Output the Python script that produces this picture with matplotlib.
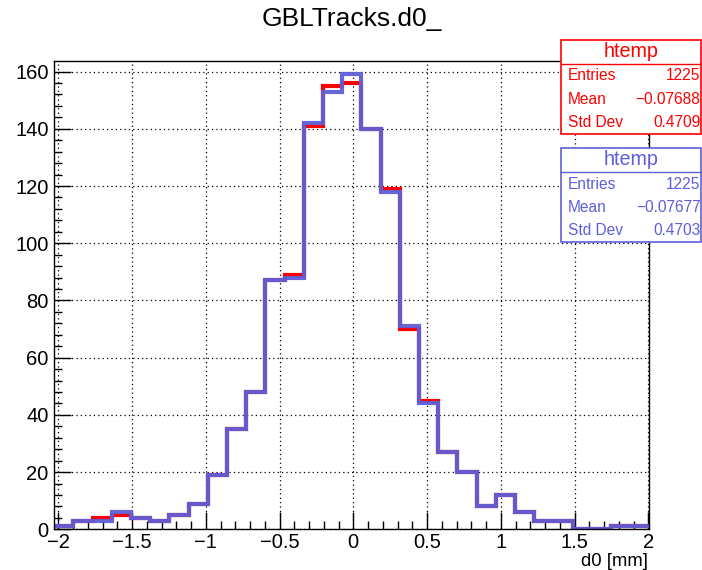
import numpy as np
import matplotlib.pyplot as plt
from matplotlib.patches import Rectangle
from matplotlib.ticker import MultipleLocator

plt.rcParams['font.family'] = ['Liberation Sans', 'DejaVu Sans']

# histogram range and binning of htemp
x_lo, x_hi, n_bins = -2.027, 2.007, 31

# bin contents, d0 [mm]
counts_red = [1, 3, 4, 5, 4, 3, 5, 9, 19, 35, 48, 87, 89, 141, 155, 156,
              140, 119, 70, 45, 27, 20, 8, 12, 6, 3, 3, 0, 0, 1, 1]
counts_blue = [1, 3, 3, 6, 4, 3, 5, 9, 19, 35, 48, 87, 88, 142, 153, 159,
               140, 118, 71, 44, 27, 20, 8, 12, 6, 3, 3, 0, 0, 1, 1]

stats_red = [("Entries", "1225"), ("Mean", "\u22120.07688"), ("Std Dev", "0.4709")]
stats_blue = [("Entries", "1225"), ("Mean", "\u22120.07677"), ("Std Dev", "0.4703")]

RED = '#ff0000'
BLUE = '#5f5fd8'

W, H = 702, 570
fig = plt.figure(figsize=(W / 100, H / 100), dpi=100)


def fx(px):
    return px / W


def fy(py):
    return 1 - py / H


ax = fig.add_axes([fx(54.3), fy(529.3), fx(649.3 - 54.3), (529.3 - 60.7) / H])

edges = np.linspace(x_lo, x_hi, n_bins + 1)
ax.stairs(counts_red, edges, color=RED, lw=3, baseline=None)
ax.stairs(counts_blue, edges, color=BLUE, lw=3, alpha=0.95, baseline=None)

ax.set_xlim(x_lo, x_hi)
ax.set_ylim(0, max(counts_red) * 1.05)

ax.xaxis.set_major_locator(MultipleLocator(0.5))
ax.xaxis.set_minor_locator(MultipleLocator(0.1))
ax.yaxis.set_major_locator(MultipleLocator(20))
ax.yaxis.set_minor_locator(MultipleLocator(4))
ax.set_xticks([-2, -1.5, -1, -0.5, 0, 0.5, 1, 1.5, 2])
ax.set_xticklabels(['\u22122', '\u22121.5', '\u22121', '\u22120.5', '0', '0.5', '1', '1.5', '2'])
ax.tick_params(which='both', direction='in', top=False, right=False,
               labelsize=14.5, width=1)
ax.tick_params(which='major', length=12)
ax.tick_params(axis='x', which='major', pad=3)
ax.tick_params(axis='y', which='major', pad=4)
ax.tick_params(which='minor', length=6)
ax.grid(True, which='major', color='black', linestyle=(0, (1, 2.5)), lw=0.9)
ax.set_axisbelow(True)
for s in ax.spines.values():
    s.set_linewidth(1)

fig.text(fx(352), fy(19), "GBLTracks.d0_", fontsize=19, ha='center', va='center')
fig.text(fx(648), fy(561.5), "d0 [mm]", fontsize=13.3, ha='right', va='center')


def stats_box(top, color, rows):
    left, right = 560.7, 701.0
    bottom = top + 94
    sep = top + 23.5
    fig.add_artist(Rectangle((fx(left), fy(bottom)), fx(right - left), (bottom - top) / H,
                             transform=fig.transFigure, facecolor='white',
                             edgecolor=color, lw=1.2, zorder=5))
    fig.add_artist(plt.Line2D([fx(left), fx(right)], [fy(sep), fy(sep)],
                              transform=fig.transFigure, color=color, lw=1, zorder=6))
    fig.text(fx((left + right) / 2), fy(top + 11.5), "htemp", color=color,
             fontsize=14.2, ha='center', va='center', zorder=7)
    for i, (name, val) in enumerate(rows):
        yy = top + 36 + i * 23.3
        fig.text(fx(567.5), fy(yy), name, color=color, fontsize=11.2,
                 ha='left', va='center', zorder=7)
        fig.text(fx(700.5), fy(yy), val, color=color, fontsize=11.2,
                 ha='right', va='center', zorder=7)


stats_box(40, RED, stats_red)
stats_box(148.3, BLUE, stats_blue)

fig.savefig("out.png", dpi=100)
